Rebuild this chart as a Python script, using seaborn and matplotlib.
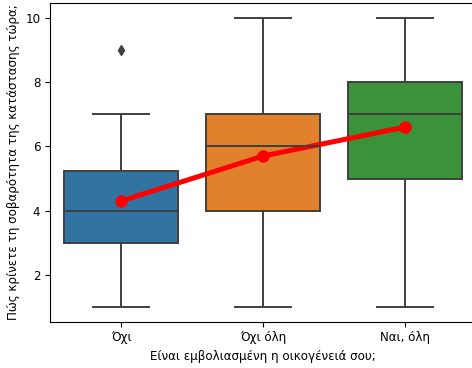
import matplotlib
matplotlib.use("Agg")
import matplotlib.pyplot as plt
import seaborn as sns
import pandas as pd

categories = ["Όχι", "Όχι όλη", "Ναι, όλη"]
answers_no = [1, 1, 3, 3, 3, 3, 3, 3, 4, 4, 4, 4, 5, 5, 5, 6, 6, 7, 7, 9]
answers_not_all = [1, 2, 4, 4, 4, 4, 5, 5, 5, 6, 6, 6, 6, 7, 7, 7, 8, 8, 9, 10]
answers_all = [1, 3, 4, 5, 5, 5, 6, 6, 7, 7, 7, 7, 7, 8, 8, 8, 9, 9, 10, 10]

xlabel = "Είναι εμβολιασμένη η οικογένειά σου;"
ylabel = "Πώς κρίνετε τη σοβαρότητα της κατάστασης τώρα;"

plt.rcParams["font.size"] = 8.6

rows = []
for cat, vals in zip(categories, [answers_no, answers_not_all, answers_all]):
    for v in vals:
        rows.append({"cat": cat, "val": v})
df = pd.DataFrame(rows)

fig = plt.figure(figsize=(4.72, 3.68), dpi=100)
ax = fig.add_axes([0.106, 0.126, 0.9025, 0.865])

sns.boxplot(data=df, x="cat", y="val", hue="cat", order=categories,
            palette=sns.color_palette()[:3], legend=False, ax=ax,
            saturation=0.75, width=0.8, linecolor="#3f3f3f", linewidth=1.4,
            flierprops=dict(marker="d", markerfacecolor="#3f3f3f",
                            markeredgecolor="#3f3f3f", markersize=5))
sns.pointplot(data=df, x="cat", y="val", order=categories, color="red",
              errorbar=None, ax=ax, linewidth=3.6, markersize=6.3)

ax.set_xlabel(xlabel, fontsize=8.6)
ax.set_ylabel(ylabel, fontsize=8.6)
ax.set_yticks([2, 4, 6, 8, 10])
ax.set_ylim(0.55, 10.45)
ax.tick_params(labelsize=8.6)

fig.savefig("out.png", dpi=100)
